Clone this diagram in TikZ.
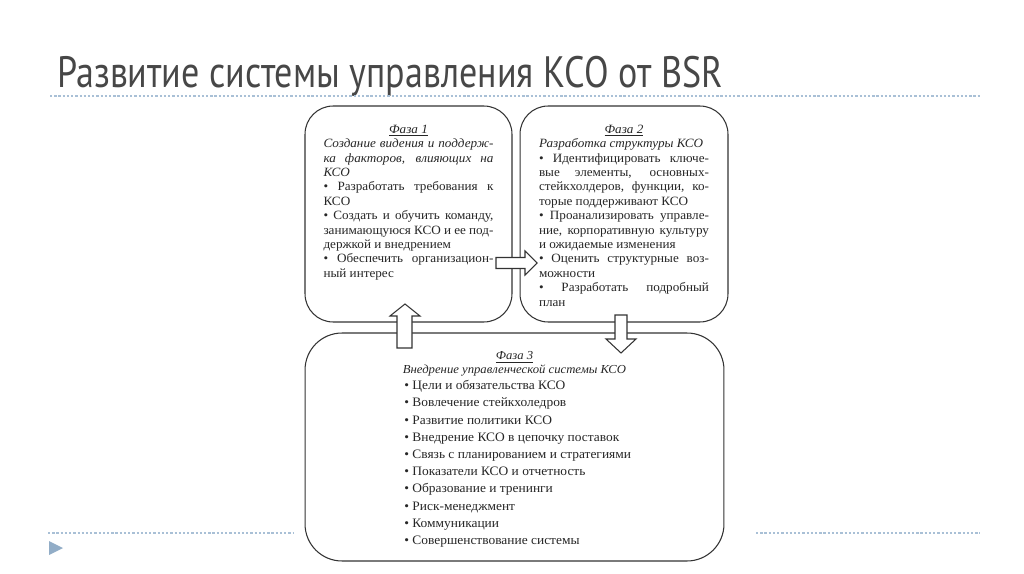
\documentclass[tikz,border=0pt]{standalone}
\usepackage{fontspec}
\setmainfont{Liberation Serif}
\newfontfamily\boxfont[FakeStretch=1.04]{Liberation Serif}
\newfontfamily\titlefont[FakeStretch=0.82]{PT Sans}
\usetikzlibrary{positioning,calc}
\definecolor{titlegray}{HTML}{474747}
\definecolor{dotblue}{HTML}{A9C0D6}
\definecolor{markblue}{HTML}{92ADC7}
\definecolor{boxline}{HTML}{333333}
\tikzset{
  phasebox/.style={draw=boxline, line width=0.6pt, fill=white, rounded corners=16pt, inner sep=0pt},
  phasetext/.style={inner sep=0pt, align=justify, text width=3.4cm, font=\boxfont\fontsize{7.2}{8.2}\selectfont, text=black!85},
  phaselist/.style={inner sep=0pt, align=left, font=\boxfont\fontsize{7.35}{9.8}\selectfont, text=black!85},
  blockarrow/.style={draw=boxline, line width=0.6pt, fill=white, line join=miter},
  slideline/.style={dotblue, line width=0.9pt, dash pattern=on 1.3pt off 1.1pt}
}
\begin{document}
\begin{tikzpicture}[x=0.02cm, y=-0.02cm]
\useasboundingbox (0,0) rectangle (1024,574);
% slide frame
\node[anchor=base west, inner sep=0pt, text=titlegray, font=\titlefont\fontsize{25}{30}\selectfont] (title) at (57,88) {Развитие системы управления КСО от BSR};
\draw[slideline] (50,96) -- (980,96);
\draw[slideline] (48,533) -- (293,533);
\draw[slideline] (756,533) -- (980,533);
\fill[markblue] (49,541) -- (63,548) -- (49,555) -- cycle;
% phases
\node[phasebox, minimum width=4.14cm, minimum height=4.32cm] (ph1) at (408.5,214) {};
\node[phasebox, minimum width=4.16cm, minimum height=4.32cm] (ph2) at (624,214) {};
\node[phasebox, rounded corners=21pt, minimum width=8.38cm, minimum height=4.56cm] (ph3) at (514.5,447) {};
\node[phasetext, below=0.38cm of ph1.north] (ph1txt) {\makebox[\linewidth]{\underline{\itshape Фаза 1}}\par
{\itshape Создание видения и поддерж-\linebreak ка факторов, влияющих на\linebreak КСО\par}
• Разработать требования к\linebreak КСО\par
• Создать и обучить команду,\linebreak занимающуюся КСО и ее под-\linebreak держкой и внедрением\par
• Обеспечить организацион-\linebreak ный интерес};
\node[phasetext, below=0.38cm of ph2.north] (ph2txt) {\makebox[\linewidth]{\underline{\itshape Фаза 2}}\par
{\itshape Разработка структуры КСО\par}
• Идентифицировать ключе-\linebreak вые элементы, основных-\linebreak стейкхолдеров, функции, ко-\linebreak торые поддерживают КСО\par
• Проанализировать управле-\linebreak ние, корпоративную культуру\linebreak и ожидаемые изменения\par
• Оценить структурные воз-\linebreak можности\par
• Разработать подробный\linebreak план};
\node[phasetext, align=center, text width=, font=\boxfont\fontsize{6.95}{8}\selectfont, below=0.37cm of ph3.north] (ph3head) {\underline{\itshape Фаза 3}\\ \itshape Внедрение управленческой системы КСО};
\node[phaselist, anchor=north west] (ph3list) at (404,380) {• Цели и обязательства КСО\\
• Вовлечение стейкхоледров\\
• Развитие политики КСО\\
• Внедрение КСО в цепочку поставок\\
• Связь с планированием и стратегиями\\
• Показатели КСО и отчетность\\
• Образование и тренинги\\
• Риск-менеджмент\\
• Коммуникации\\
• Совершенствование системы};
% transitions
\draw[blockarrow] (496,257.5) -- (525,257.5) -- (525,251) -- (537,263) -- (525,275) -- (525,268.5) -- (496,268.5) -- cycle;
\draw[blockarrow] (397,348) -- (397,316) -- (390,316) -- (405,304) -- (420,316) -- (412,316) -- (412,348) -- cycle;
\draw[blockarrow] (615,315) -- (627,315) -- (627,339) -- (636,339) -- (621,353) -- (606,339) -- (615,339) -- cycle;
\end{tikzpicture}
\end{document}
